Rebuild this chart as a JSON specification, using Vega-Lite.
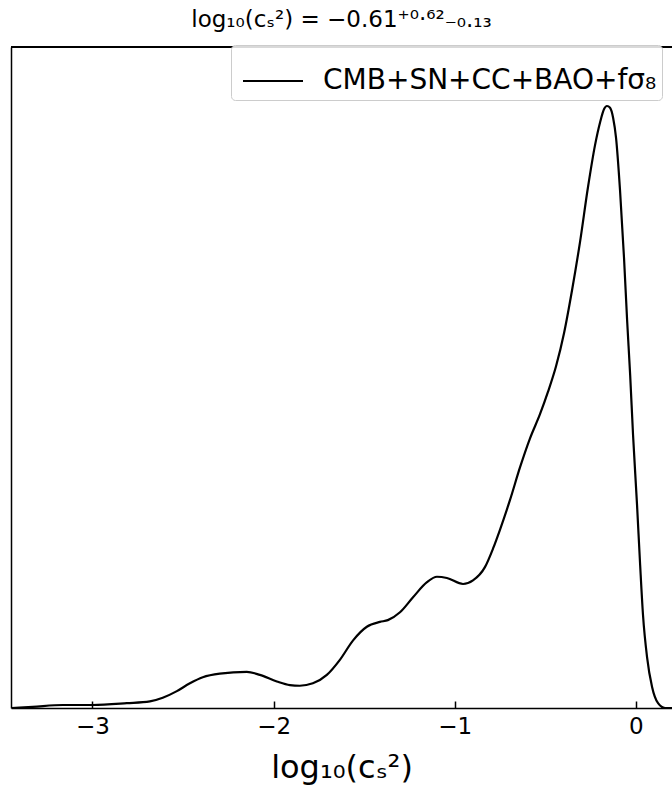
{
  "$schema": "https://vega.github.io/schema/vega-lite/v6.json",
  "autosize": {"type": "none"},
  "width": 661,
  "height": 661,
  "padding": {"left": 11, "top": 47, "right": 0, "bottom": 88},
  "background": "white",
  "title": {
    "text": "log₁₀(cₛ²) = −0.61⁺⁰·⁶²₋₀.₁₃",
    "font": "DejaVu Sans",
    "fontSize": 23,
    "fontWeight": "normal",
    "color": "black",
    "anchor": "middle",
    "offset": 13
  },
  "config": {
    "view": {"stroke": null},
    "font": "DejaVu Sans"
  },
  "data": {
    "values": [
      {"x": -3.446, "y": 0.0, "series": "CMB+SN+CC+BAO+fσ₈"},
      {"x": -3.330, "y": 0.002, "series": "CMB+SN+CC+BAO+fσ₈"},
      {"x": -3.164, "y": 0.005, "series": "CMB+SN+CC+BAO+fσ₈"},
      {"x": -3.000, "y": 0.005, "series": "CMB+SN+CC+BAO+fσ₈"},
      {"x": -2.810, "y": 0.008, "series": "CMB+SN+CC+BAO+fσ₈"},
      {"x": -2.683, "y": 0.011, "series": "CMB+SN+CC+BAO+fσ₈"},
      {"x": -2.612, "y": 0.017, "series": "CMB+SN+CC+BAO+fσ₈"},
      {"x": -2.534, "y": 0.028, "series": "CMB+SN+CC+BAO+fσ₈"},
      {"x": -2.462, "y": 0.041, "series": "CMB+SN+CC+BAO+fσ₈"},
      {"x": -2.391, "y": 0.051, "series": "CMB+SN+CC+BAO+fσ₈"},
      {"x": -2.297, "y": 0.057, "series": "CMB+SN+CC+BAO+fσ₈"},
      {"x": -2.148, "y": 0.060, "series": "CMB+SN+CC+BAO+fσ₈"},
      {"x": -2.076, "y": 0.055, "series": "CMB+SN+CC+BAO+fσ₈"},
      {"x": -1.982, "y": 0.044, "series": "CMB+SN+CC+BAO+fσ₈"},
      {"x": -1.910, "y": 0.038, "series": "CMB+SN+CC+BAO+fσ₈"},
      {"x": -1.855, "y": 0.037, "series": "CMB+SN+CC+BAO+fσ₈"},
      {"x": -1.783, "y": 0.041, "series": "CMB+SN+CC+BAO+fσ₈"},
      {"x": -1.706, "y": 0.055, "series": "CMB+SN+CC+BAO+fσ₈"},
      {"x": -1.634, "y": 0.080, "series": "CMB+SN+CC+BAO+fσ₈"},
      {"x": -1.562, "y": 0.112, "series": "CMB+SN+CC+BAO+fσ₈"},
      {"x": -1.485, "y": 0.135, "series": "CMB+SN+CC+BAO+fσ₈"},
      {"x": -1.413, "y": 0.143, "series": "CMB+SN+CC+BAO+fσ₈"},
      {"x": -1.369, "y": 0.146, "series": "CMB+SN+CC+BAO+fσ₈"},
      {"x": -1.302, "y": 0.159, "series": "CMB+SN+CC+BAO+fσ₈"},
      {"x": -1.230, "y": 0.184, "series": "CMB+SN+CC+BAO+fσ₈"},
      {"x": -1.153, "y": 0.209, "series": "CMB+SN+CC+BAO+fσ₈"},
      {"x": -1.098, "y": 0.218, "series": "CMB+SN+CC+BAO+fσ₈"},
      {"x": -1.043, "y": 0.216, "series": "CMB+SN+CC+BAO+fσ₈"},
      {"x": -0.954, "y": 0.206, "series": "CMB+SN+CC+BAO+fσ₈"},
      {"x": -0.899, "y": 0.212, "series": "CMB+SN+CC+BAO+fσ₈"},
      {"x": -0.833, "y": 0.234, "series": "CMB+SN+CC+BAO+fσ₈"},
      {"x": -0.788, "y": 0.265, "series": "CMB+SN+CC+BAO+fσ₈"},
      {"x": -0.750, "y": 0.296, "series": "CMB+SN+CC+BAO+fσ₈"},
      {"x": -0.694, "y": 0.346, "series": "CMB+SN+CC+BAO+fσ₈"},
      {"x": -0.639, "y": 0.400, "series": "CMB+SN+CC+BAO+fσ₈"},
      {"x": -0.584, "y": 0.448, "series": "CMB+SN+CC+BAO+fσ₈"},
      {"x": -0.529, "y": 0.488, "series": "CMB+SN+CC+BAO+fσ₈"},
      {"x": -0.485, "y": 0.525, "series": "CMB+SN+CC+BAO+fσ₈"},
      {"x": -0.440, "y": 0.568, "series": "CMB+SN+CC+BAO+fσ₈"},
      {"x": -0.396, "y": 0.623, "series": "CMB+SN+CC+BAO+fσ₈"},
      {"x": -0.352, "y": 0.694, "series": "CMB+SN+CC+BAO+fσ₈"},
      {"x": -0.308, "y": 0.774, "series": "CMB+SN+CC+BAO+fσ₈"},
      {"x": -0.264, "y": 0.865, "series": "CMB+SN+CC+BAO+fσ₈"},
      {"x": -0.225, "y": 0.935, "series": "CMB+SN+CC+BAO+fσ₈"},
      {"x": -0.197, "y": 0.973, "series": "CMB+SN+CC+BAO+fσ₈"},
      {"x": -0.175, "y": 0.995, "series": "CMB+SN+CC+BAO+fσ₈"},
      {"x": -0.159, "y": 1.0, "series": "CMB+SN+CC+BAO+fσ₈"},
      {"x": -0.142, "y": 0.997, "series": "CMB+SN+CC+BAO+fσ₈"},
      {"x": -0.125, "y": 0.980, "series": "CMB+SN+CC+BAO+fσ₈"},
      {"x": -0.109, "y": 0.947, "series": "CMB+SN+CC+BAO+fσ₈"},
      {"x": -0.087, "y": 0.860, "series": "CMB+SN+CC+BAO+fσ₈"},
      {"x": -0.065, "y": 0.748, "series": "CMB+SN+CC+BAO+fσ₈"},
      {"x": -0.048, "y": 0.645, "series": "CMB+SN+CC+BAO+fσ₈"},
      {"x": -0.031, "y": 0.553, "series": "CMB+SN+CC+BAO+fσ₈"},
      {"x": -0.015, "y": 0.453, "series": "CMB+SN+CC+BAO+fσ₈"},
      {"x": 0.007, "y": 0.337, "series": "CMB+SN+CC+BAO+fσ₈"},
      {"x": 0.024, "y": 0.238, "series": "CMB+SN+CC+BAO+fσ₈"},
      {"x": 0.040, "y": 0.154, "series": "CMB+SN+CC+BAO+fσ₈"},
      {"x": 0.062, "y": 0.085, "series": "CMB+SN+CC+BAO+fσ₈"},
      {"x": 0.090, "y": 0.035, "series": "CMB+SN+CC+BAO+fσ₈"},
      {"x": 0.123, "y": 0.008, "series": "CMB+SN+CC+BAO+fσ₈"},
      {"x": 0.162, "y": 0.0, "series": "CMB+SN+CC+BAO+fσ₈"},
      {"x": 0.201, "y": 0.0, "series": "CMB+SN+CC+BAO+fσ₈"}
    ]
  },
  "layer": [
    {
      "mark": {"type": "line", "strokeWidth": 2.2, "interpolate": "monotone", "clip": true},
      "encoding": {
        "x": {
          "field": "x", "type": "quantitative",
          "scale": {"domain": [-3.45, 0.2], "nice": false, "zero": false},
          "axis": {
            "values": [-3, -2, -1, 0],
            "format": "d",
            "title": "log₁₀(cₛ²)",
            "titleFont": "DejaVu Sans",
            "titleFontSize": 32,
            "titleFontWeight": "normal",
            "titleColor": "black",
            "titlePadding": 14,
            "labelFont": "DejaVu Sans",
            "labelFontSize": 23,
            "labelColor": "black",
            "labelPadding": 14,
            "labelExpr": "replace(datum.label, '-', '−')",
            "tickSize": -7,
            "tickColor": "black",
            "tickWidth": 1.5,
            "domainColor": "black",
            "domainWidth": 1.5,
            "grid": false
          }
        },
        "y": {
          "field": "y", "type": "quantitative",
          "scale": {"domain": [0, 1.098], "nice": false},
          "axis": {
            "title": null,
            "labels": false,
            "ticks": false,
            "grid": false,
            "domainColor": "black",
            "domainWidth": 1.5
          }
        },
        "color": {
          "field": "series", "type": "nominal",
          "scale": {"range": ["black"]},
          "legend": {
            "title": null,
            "orient": "none",
            "legendX": 220,
            "legendY": -2,
            "symbolType": "stroke",
            "symbolSize": 3600,
            "symbolStrokeWidth": 2,
            "symbolStrokeColor": "black",
            "symbolOffset": 6,
            "labelFont": "DejaVu Sans",
            "labelFontSize": 28,
            "labelColor": "black",
            "labelLimit": 0,
            "labelOffset": 19,
            "labelExpr": "datum.label + '\u00a0\u00a0'",
            "fillColor": "rgba(255,255,255,0.85)",
            "strokeColor": "#cccccc",
            "cornerRadius": 4,
            "padding": 5
          }
        }
      }
    },
    {
      "mark": {"type": "rule", "color": "black", "strokeWidth": 1.5},
      "encoding": {
        "y": {"datum": 1.098, "type": "quantitative"}
      }
    }
  ]
}
